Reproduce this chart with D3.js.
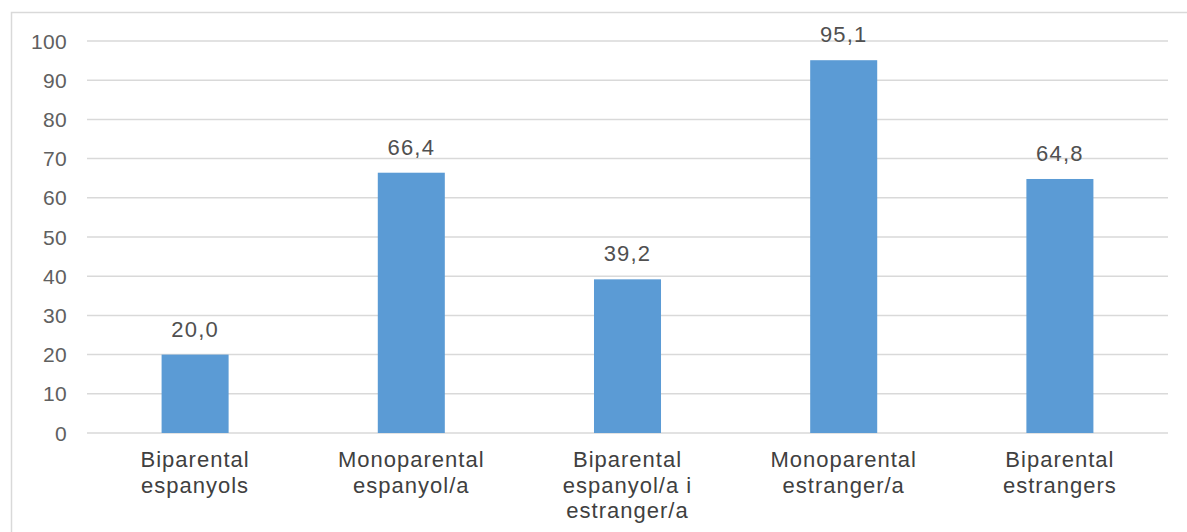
<!DOCTYPE html>
<html>
<head>
<meta charset="utf-8">
<script src="https://cdn.jsdelivr.net/npm/d3@7"></script>
<style>
  html, body { margin: 0; padding: 0; background: #fff; }
  svg { display: block; }
  text { font-family: "Liberation Sans", Arial, Helvetica, sans-serif; }
</style>
</head>
<body>
<svg id="chart" width="1187" height="532"></svg>
<script>
const categories = [
  ["Biparental", "espanyols"],
  ["Monoparental", "espanyol/a"],
  ["Biparental", "espanyol/a i", "estranger/a"],
  ["Monoparental", "estranger/a"],
  ["Biparental", "estrangers"]
];
const values = [20.0, 66.4, 39.2, 95.1, 64.8];
const yTicks = [0, 10, 20, 30, 40, 50, 60, 70, 80, 90, 100];

const svg = d3.select("#chart");
const W = 1187, H = 532;
const plot = { left: 87, right: 1168, top: 41, bottom: 433 };

// outer chart border (extends past the window edge on right/bottom)
svg.append("rect")
  .attr("x", 11.5).attr("y", 12.5)
  .attr("width", W + 20).attr("height", H + 20)
  .attr("fill", "none").attr("stroke", "#d9d9d9").attr("stroke-width", 1.5);

const x = d3.scaleBand()
  .domain(d3.range(values.length))
  .range([plot.left, plot.right])
  .paddingInner(0.69).paddingOuter(0.345);

const y = d3.scaleLinear().domain([0, 100]).range([plot.bottom, plot.top]);

// gridlines
svg.append("g").selectAll("line").data(yTicks).join("line")
  .attr("x1", plot.left).attr("x2", plot.right)
  .attr("y1", d => y(d)).attr("y2", d => y(d))
  .attr("stroke", "#d9d9d9").attr("stroke-width", 1.5);

// y tick labels
svg.append("g").selectAll("text").data(yTicks).join("text")
  .attr("x", 67).attr("y", d => y(d))
  .attr("dy", "0.36em")
  .attr("text-anchor", "end")
  .attr("font-size", 21)
  .attr("letter-spacing", 0.3)
  .attr("fill", "#606060")
  .text(d => d);

// bars
svg.append("g").selectAll("rect").data(values).join("rect")
  .attr("x", (d, i) => x(i))
  .attr("y", d => y(d))
  .attr("width", x.bandwidth())
  .attr("height", d => y(0) - y(d))
  .attr("fill", "#5b9bd5");

// value labels
const fmt = v => v.toFixed(1).replace(".", ",");
svg.append("g").selectAll("text").data(values).join("text")
  .attr("x", (d, i) => x(i) + x.bandwidth() / 2)
  .attr("y", d => y(d) - 18)
  .attr("text-anchor", "middle")
  .attr("font-size", 22)
  .attr("letter-spacing", 1.2)
  .attr("fill", "#505050")
  .text(d => fmt(d));

// category labels
const catG = svg.append("g");
categories.forEach((lines, i) => {
  const t = catG.append("text")
    .attr("x", x(i) + x.bandwidth() / 2)
    .attr("y", 467)
    .attr("text-anchor", "middle")
    .attr("font-size", 22)
    .attr("letter-spacing", 1)
    .attr("fill", "#404040");
  lines.forEach((ln, j) => {
    t.append("tspan")
      .attr("x", x(i) + x.bandwidth() / 2)
      .attr("dy", j === 0 ? 0 : 25.5)
      .text(ln);
  });
});
</script>
</body>
</html>
